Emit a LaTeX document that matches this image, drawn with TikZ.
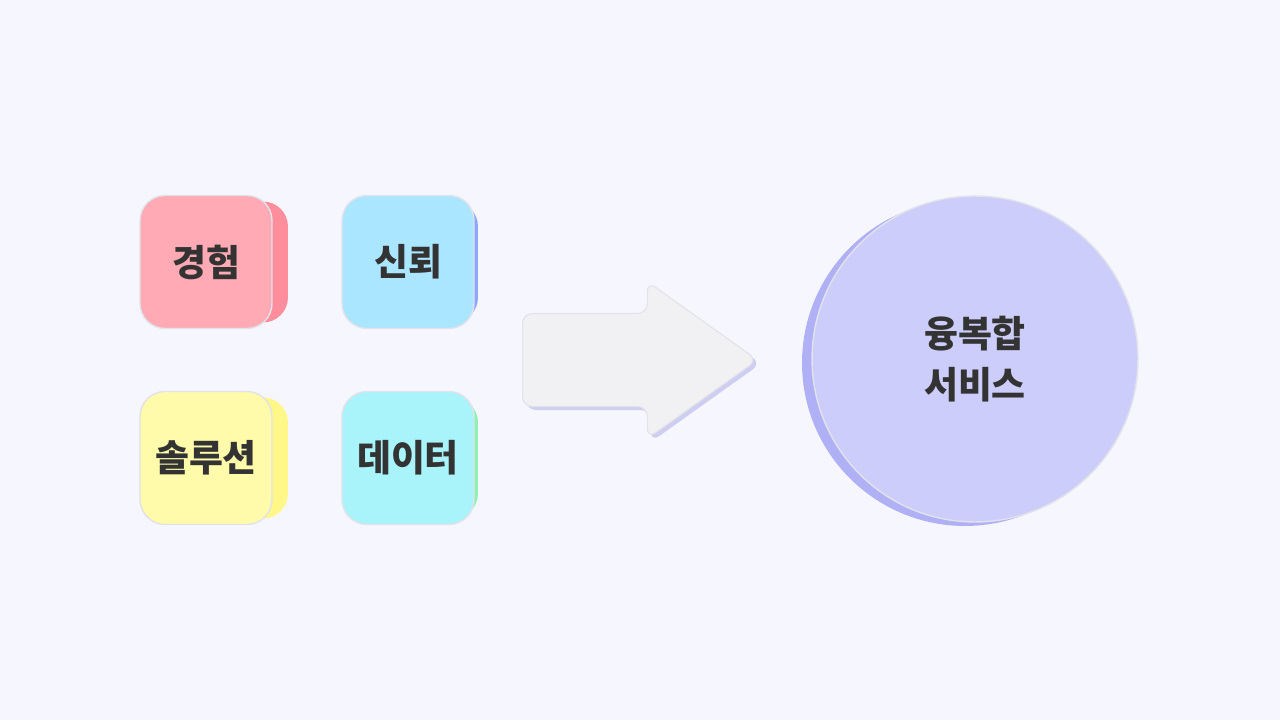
\documentclass[tikz,border=0pt]{standalone}
\usepackage{fontspec}
\usepackage{tikz}
\usetikzlibrary{shapes.arrows,shadows}
\newfontfamily\krfont{Noto Sans CJK KR}
\definecolor{bgcol}{HTML}{F6F7FE}
\definecolor{edgecol}{HTML}{E2E2EA}
\definecolor{txtcol}{HTML}{333333}
\definecolor{pinkface}{HTML}{FFAAB4}
\definecolor{pinkback}{HTML}{FF8E9C}
\definecolor{blueface}{HTML}{AAE6FF}
\definecolor{blueback}{HTML}{8EA6FF}
\definecolor{yellowface}{HTML}{FFFBAA}
\definecolor{yellowback}{HTML}{FFF888}
\definecolor{cyanface}{HTML}{A8F4FA}
\definecolor{cyanback}{HTML}{8EF0B2}
\definecolor{arrowface}{HTML}{F1F1F3}
\definecolor{arrowshade}{HTML}{C4C4EE}
\definecolor{discface}{HTML}{CDCDFB}
\definecolor{discback}{HTML}{B0B0F6}

\begin{document}
\begin{tikzpicture}[
      x=0.02cm, y=0.02cm,
      face/.style = {shape=rectangle, rounded corners=0.5cm, draw=edgecol, line width=0.8pt,
                     minimum width=2.64cm, minimum height=2.66cm, inner sep=0pt},
      back/.style = {shape=rectangle, rounded corners=0.5cm, minimum width=2.64cm,
                     minimum height=2.42cm, inner sep=0pt},
      word/.style = {font=\krfont\bfseries\fontsize{21}{29}\selectfont, text=txtcol, align=center}
    ]
      \fill[bgcol] (0,0) rectangle (1280,720);

      \node[back, fill=pinkback] (expback) at (222,458) {};
      \node[face, fill=pinkface, word] (exp) at (206,458) {경험};

      \node[back, fill=blueback] (trustback) at (412,458) {};
      \node[face, fill=blueface, word] (trust) at (408,458) {신뢰};

      \node[back, fill=yellowback] (solback) at (222,262) {};
      \node[face, fill=yellowface, word] (sol) at (206,262) {솔루션};

      \node[back, fill=cyanback] (databack) at (412,262) {};
      \node[face, fill=cyanface, word] (data) at (408,262) {데이터};

      \node[shape=single arrow, anchor=tail, fill=arrowface, draw=edgecol, line width=0.6pt,
            rounded corners=0.2cm, minimum height=4.7cm, minimum width=3.12cm,
            single arrow head extend=0.64cm, single arrow tip angle=71,
            inner xsep=0pt, inner ysep=0.92cm,
            drop shadow={shadow xshift=2pt, shadow yshift=-2pt, fill=arrowshade, opacity=0.8}]
            (flow) at (522,360) {};

      \node[shape=circle, fill=discback, minimum size=6.52cm, inner sep=0pt] (svcback) at (965,357) {};
      \node[shape=circle, fill=discface, draw=edgecol, line width=0.8pt, minimum size=6.52cm,
            inner sep=0pt, word] (svc) at (975,361) {융복합\\서비스};
    \end{tikzpicture}
\end{document}
